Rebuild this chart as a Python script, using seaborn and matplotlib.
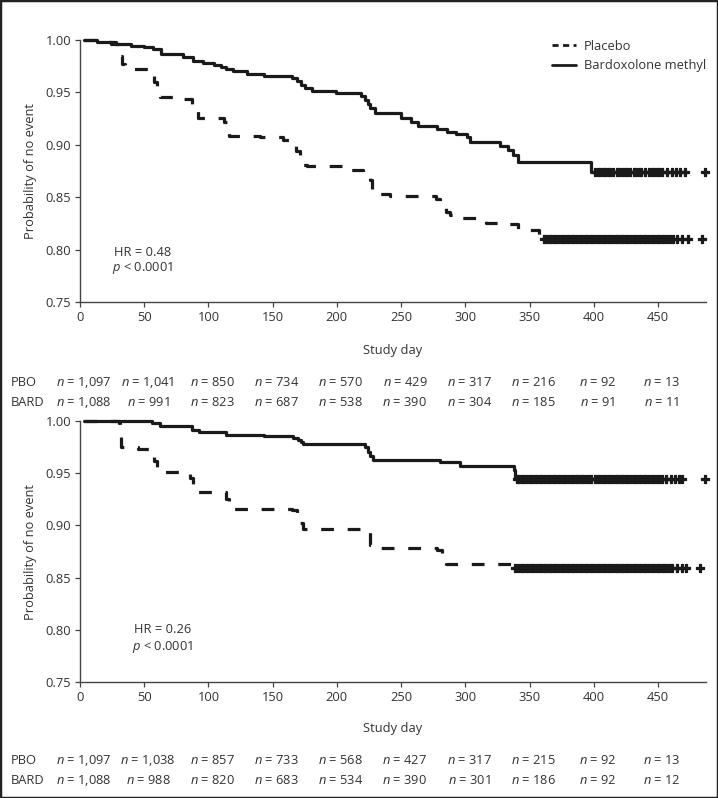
import matplotlib
matplotlib.use("Agg")
import matplotlib.pyplot as plt
import matplotlib.transforms as mtransforms
from matplotlib.lines import Line2D
from matplotlib.patches import Rectangle
import numpy as np
import pandas as pd
import seaborn as sns

sns.set_theme(style="white")
plt.rcParams['font.family'] = ['Open Sans', 'DejaVu Sans']
plt.rcParams['mathtext.fontset'] = 'custom'
plt.rcParams['mathtext.rm'] = 'Open Sans'
plt.rcParams['mathtext.it'] = 'Open Sans:italic'

INK = '#1a1a1a'
TXT = '#333333'
FS = 9.3

# ---------------- data ----------------
x_ticks = [0, 50, 100, 150, 200, 250, 300, 350, 400, 450]
y_ticks = [0.75, 0.80, 0.85, 0.90, 0.95, 1.00]
y_tick_labels = ["0.75", "0.80", "0.85", "0.90", "0.95", "1.00"]
risk_days = [0, 50, 100, 150, 200, 250, 300, 350, 400, 450]

# Panel 1 (top)
p1_pbo_t = [3, 20, 28, 31, 33, 35, 56, 58, 60, 62, 78, 87, 89, 92, 112, 116, 140, 158, 166,
            168, 171, 174, 177, 207, 220, 226, 227, 229, 241, 277, 280, 283, 285, 288, 295,
            313, 316, 326, 341, 357, 359]
p1_pbo_s = [1.000, 0.998, 0.996, 0.985, 0.977, 0.972, 0.968, 0.960, 0.950, 0.946, 0.944,
            0.938, 0.932, 0.926, 0.922, 0.908, 0.907, 0.905, 0.900, 0.894, 0.884, 0.881,
            0.880, 0.876, 0.874, 0.866, 0.857, 0.853, 0.851, 0.848, 0.845, 0.840, 0.836,
            0.833, 0.830, 0.827, 0.825, 0.824, 0.819, 0.814, 0.810]
p1_pbo_end = 465
p1_pbo_cens = [361, 363, 365, 367, 369, 371, 373, 375, 377, 379, 381, 383, 385, 387, 389,
               391, 393, 395, 397, 399, 401, 403, 405, 407, 409, 411, 413, 415, 417, 419,
               421, 423, 425, 427, 429, 431, 433, 435, 437, 439, 441, 443, 445, 447, 449,
               451, 453, 455, 457, 459, 462, 465, 469, 473, 484]

p1_bard_t = [3, 13, 24, 40, 50, 57, 63, 80, 88, 96, 104, 110, 114, 119, 130, 143, 165, 169,
             172, 175, 181, 199, 219, 222, 224, 226, 230, 250, 258, 263, 278, 286, 293, 301,
             304, 327, 333, 337, 341, 398]
p1_bard_s = [1.000, 0.998, 0.996, 0.994, 0.993, 0.991, 0.987, 0.984, 0.980, 0.978, 0.976,
             0.974, 0.972, 0.970, 0.968, 0.966, 0.964, 0.961, 0.957, 0.954, 0.951, 0.949,
             0.947, 0.943, 0.939, 0.935, 0.930, 0.926, 0.922, 0.918, 0.915, 0.912, 0.910,
             0.907, 0.903, 0.899, 0.895, 0.890, 0.884, 0.874]
p1_bard_end = 471
p1_bard_cens = [401, 403, 405, 407, 409, 411, 413, 415, 418, 420, 422, 424, 426, 428, 431,
                433, 435, 437, 440, 443, 445, 447, 449, 451, 453, 457, 461, 464, 467, 471, 487]

p1_pbo_risk = ["1,097", "1,041", "850", "734", "570", "429", "317", "216", "92", "13"]
p1_bard_risk = ["1,088", "991", "823", "687", "538", "390", "304", "185", "91", "11"]
p1_hr = "HR = 0.48"

# Panel 2 (bottom)
p2_pbo_t = [3, 30, 31, 32, 45, 56, 58, 60, 86, 88, 90, 114, 116, 165, 169, 171, 174, 221,
            226, 229, 278, 282, 285, 338]
p2_pbo_s = [1.000, 0.998, 0.985, 0.975, 0.973, 0.968, 0.962, 0.951, 0.945, 0.937, 0.932,
            0.925, 0.916, 0.915, 0.910, 0.902, 0.897, 0.895, 0.881, 0.878, 0.876, 0.872,
            0.863, 0.8595]
p2_pbo_end = 461
p2_pbo_cens = [339, 341, 343, 345, 347, 349, 351, 353, 355, 357, 359, 361, 363, 365, 367,
               369, 371, 373, 375, 377, 379, 381, 383, 385, 387, 389, 391, 393, 395, 397,
               399, 401, 403, 405, 407, 409, 411, 413, 415, 417, 419, 421, 423, 425, 427,
               429, 431, 433, 435, 437, 439, 441, 443, 445, 447, 449, 451, 453, 455, 457,
               459, 461, 465, 469, 472, 483]

p2_bard_t = [3, 56, 62, 87, 93, 114, 143, 166, 170, 172, 174, 222, 224, 226, 228, 280, 296,
             338, 339]
p2_bard_s = [1.000, 0.998, 0.995, 0.991, 0.989, 0.987, 0.9856, 0.984, 0.982, 0.980, 0.978,
             0.975, 0.970, 0.966, 0.963, 0.961, 0.957, 0.953, 0.9444]
p2_bard_end = 459
p2_bard_cens = [340, 342, 344, 346, 348, 350, 352, 354, 356, 358, 360, 362, 364, 366, 368,
                370, 372, 374, 376, 378, 380, 382, 384, 386, 388, 390, 392, 394, 396, 398,
                401, 403, 405, 407, 409, 411, 413, 415, 417, 419, 421, 423, 425, 427, 429,
                431, 433, 435, 437, 439, 441, 443, 445, 447, 449, 451, 453, 456, 460, 463,
                466, 469, 487]

p2_pbo_risk = ["1,097", "1,038", "857", "733", "568", "427", "317", "215", "92", "13"]
p2_bard_risk = ["1,088", "988", "820", "683", "534", "390", "301", "186", "92", "12"]
p2_hr = "HR = 0.26"

P_TEXT = r"$p$ < 0.0001"

# ---------------- figure ----------------
fig = plt.figure(figsize=(7.18, 7.98), dpi=100)
ax1 = fig.add_axes([80 / 718, 1 - 302 / 798, 626 / 718, 262 / 798])
ax2 = fig.add_axes([80 / 718, 1 - 682 / 798, 626 / 718, 261 / 798])

DASH = (0, (4.0, 4.3))


def draw_curve(ax, t, s, end, cens, ls):
    tt = list(t) + [end]
    ss = list(s) + [s[-1]]
    df = pd.DataFrame({'day': tt, 'surv': ss})
    sns.lineplot(data=df, x='day', y='surv', ax=ax, color=INK, linewidth=2.3,
                 drawstyle='steps-post', estimator=None, sort=False,
                 linestyle=ls, clip_on=False)
    idx = np.searchsorted(np.array(t), np.array(cens), side='right') - 1
    cy = [s[i] for i in idx]
    cdf = pd.DataFrame({'day': cens, 'surv': cy})
    sns.scatterplot(data=cdf, x='day', y='surv', ax=ax, marker='P', s=38,
                    color=INK, edgecolor=INK, linewidth=0.9, clip_on=False, zorder=3)


def style_axes(ax, label_y):
    ax.set_xlim(0, 487.4)
    ax.set_ylim(0.75, 1.0)
    ax.set_xticks(x_ticks)
    ax.set_xticklabels([str(v) for v in x_ticks])
    ax.set_yticks(y_ticks)
    ax.set_yticklabels(y_tick_labels)
    for sp in ['top', 'right']:
        ax.spines[sp].set_visible(False)
    for sp in ['left', 'bottom']:
        ax.spines[sp].set_color('#444444')
        ax.spines[sp].set_linewidth(1.0)
    ax.tick_params(axis='both', direction='out', length=3.5, width=0.9, color='#444444',
                   labelsize=FS, labelcolor=TXT, pad=3)
    ax.tick_params(left=True, bottom=True)
    ax.set_xlabel("Study day", fontsize=FS, color=TXT)
    ax.set_ylabel("Probability of no event", fontsize=FS, color=TXT)
    ax.xaxis.set_label_coords(0.5, label_y)
    ax.yaxis.set_label_coords(-0.068, 0.5)
    ax.grid(False)
    ax.set_facecolor('white')


def risk_table(ax, pbo, bard, y_pbo, y_bard):
    trans = mtransforms.blended_transform_factory(ax.transData, fig.transFigure)
    fig.text(11 / 718, y_pbo, "PBO", fontsize=FS, color=TXT, va='center', ha='left')
    fig.text(11 / 718, y_bard, "BARD", fontsize=FS, color=TXT, va='center', ha='left')
    for d, a, b in zip(risk_days, pbo, bard):
        ax.text(d + 3, y_pbo, r"$n$ = " + a, transform=trans, fontsize=FS, color=TXT,
                ha='center', va='center', clip_on=False)
        ax.text(d + 3, y_bard, r"$n$ = " + b, transform=trans, fontsize=FS, color=TXT,
                ha='center', va='center', clip_on=False)


# top panel
draw_curve(ax1, p1_pbo_t, p1_pbo_s, p1_pbo_end, p1_pbo_cens, DASH)
draw_curve(ax1, p1_bard_t, p1_bard_s, p1_bard_end, p1_bard_cens, '-')
style_axes(ax1, -0.16)
ax1.text(49, 0.797, p1_hr, fontsize=FS, color=TXT, ha='center', va='center')
ax1.text(49, 0.7825, P_TEXT, fontsize=FS, color=TXT, ha='center', va='center')
risk_table(ax1, p1_pbo_risk, p1_bard_risk, 1 - 382 / 798, 1 - 403 / 798)

handles = [Line2D([], [], color=INK, lw=2.0, linestyle=(0, (2.2, 1.6))),
           Line2D([], [], color=INK, lw=2.0, linestyle='-')]
leg = ax1.legend(handles, ["Placebo", "Bardoxolone methyl"], loc='upper right',
                 bbox_to_anchor=(1.0, 1.0), frameon=False, fontsize=FS,
                 handlelength=1.9, handletextpad=0.6, labelspacing=0.5,
                 borderaxespad=0.0, borderpad=0.0)
for t in leg.get_texts():
    t.set_color(TXT)

# bottom panel
draw_curve(ax2, p2_pbo_t, p2_pbo_s, p2_pbo_end, p2_pbo_cens, DASH)
draw_curve(ax2, p2_bard_t, p2_bard_s, p2_bard_end, p2_bard_cens, '-')
style_axes(ax2, -0.155)
ax2.text(64, 0.80, p2_hr, fontsize=FS, color=TXT, ha='center', va='center')
ax2.text(64, 0.7835, P_TEXT, fontsize=FS, color=TXT, ha='center', va='center')
risk_table(ax2, p2_pbo_risk, p2_bard_risk, 1 - 761 / 798, 1 - 781 / 798)

fig.patches.append(Rectangle((0, 0), 1, 1, transform=fig.transFigure, fill=False,
                             edgecolor='#222222', linewidth=2.5))

fig.savefig("out.png", dpi=100, facecolor='white')
